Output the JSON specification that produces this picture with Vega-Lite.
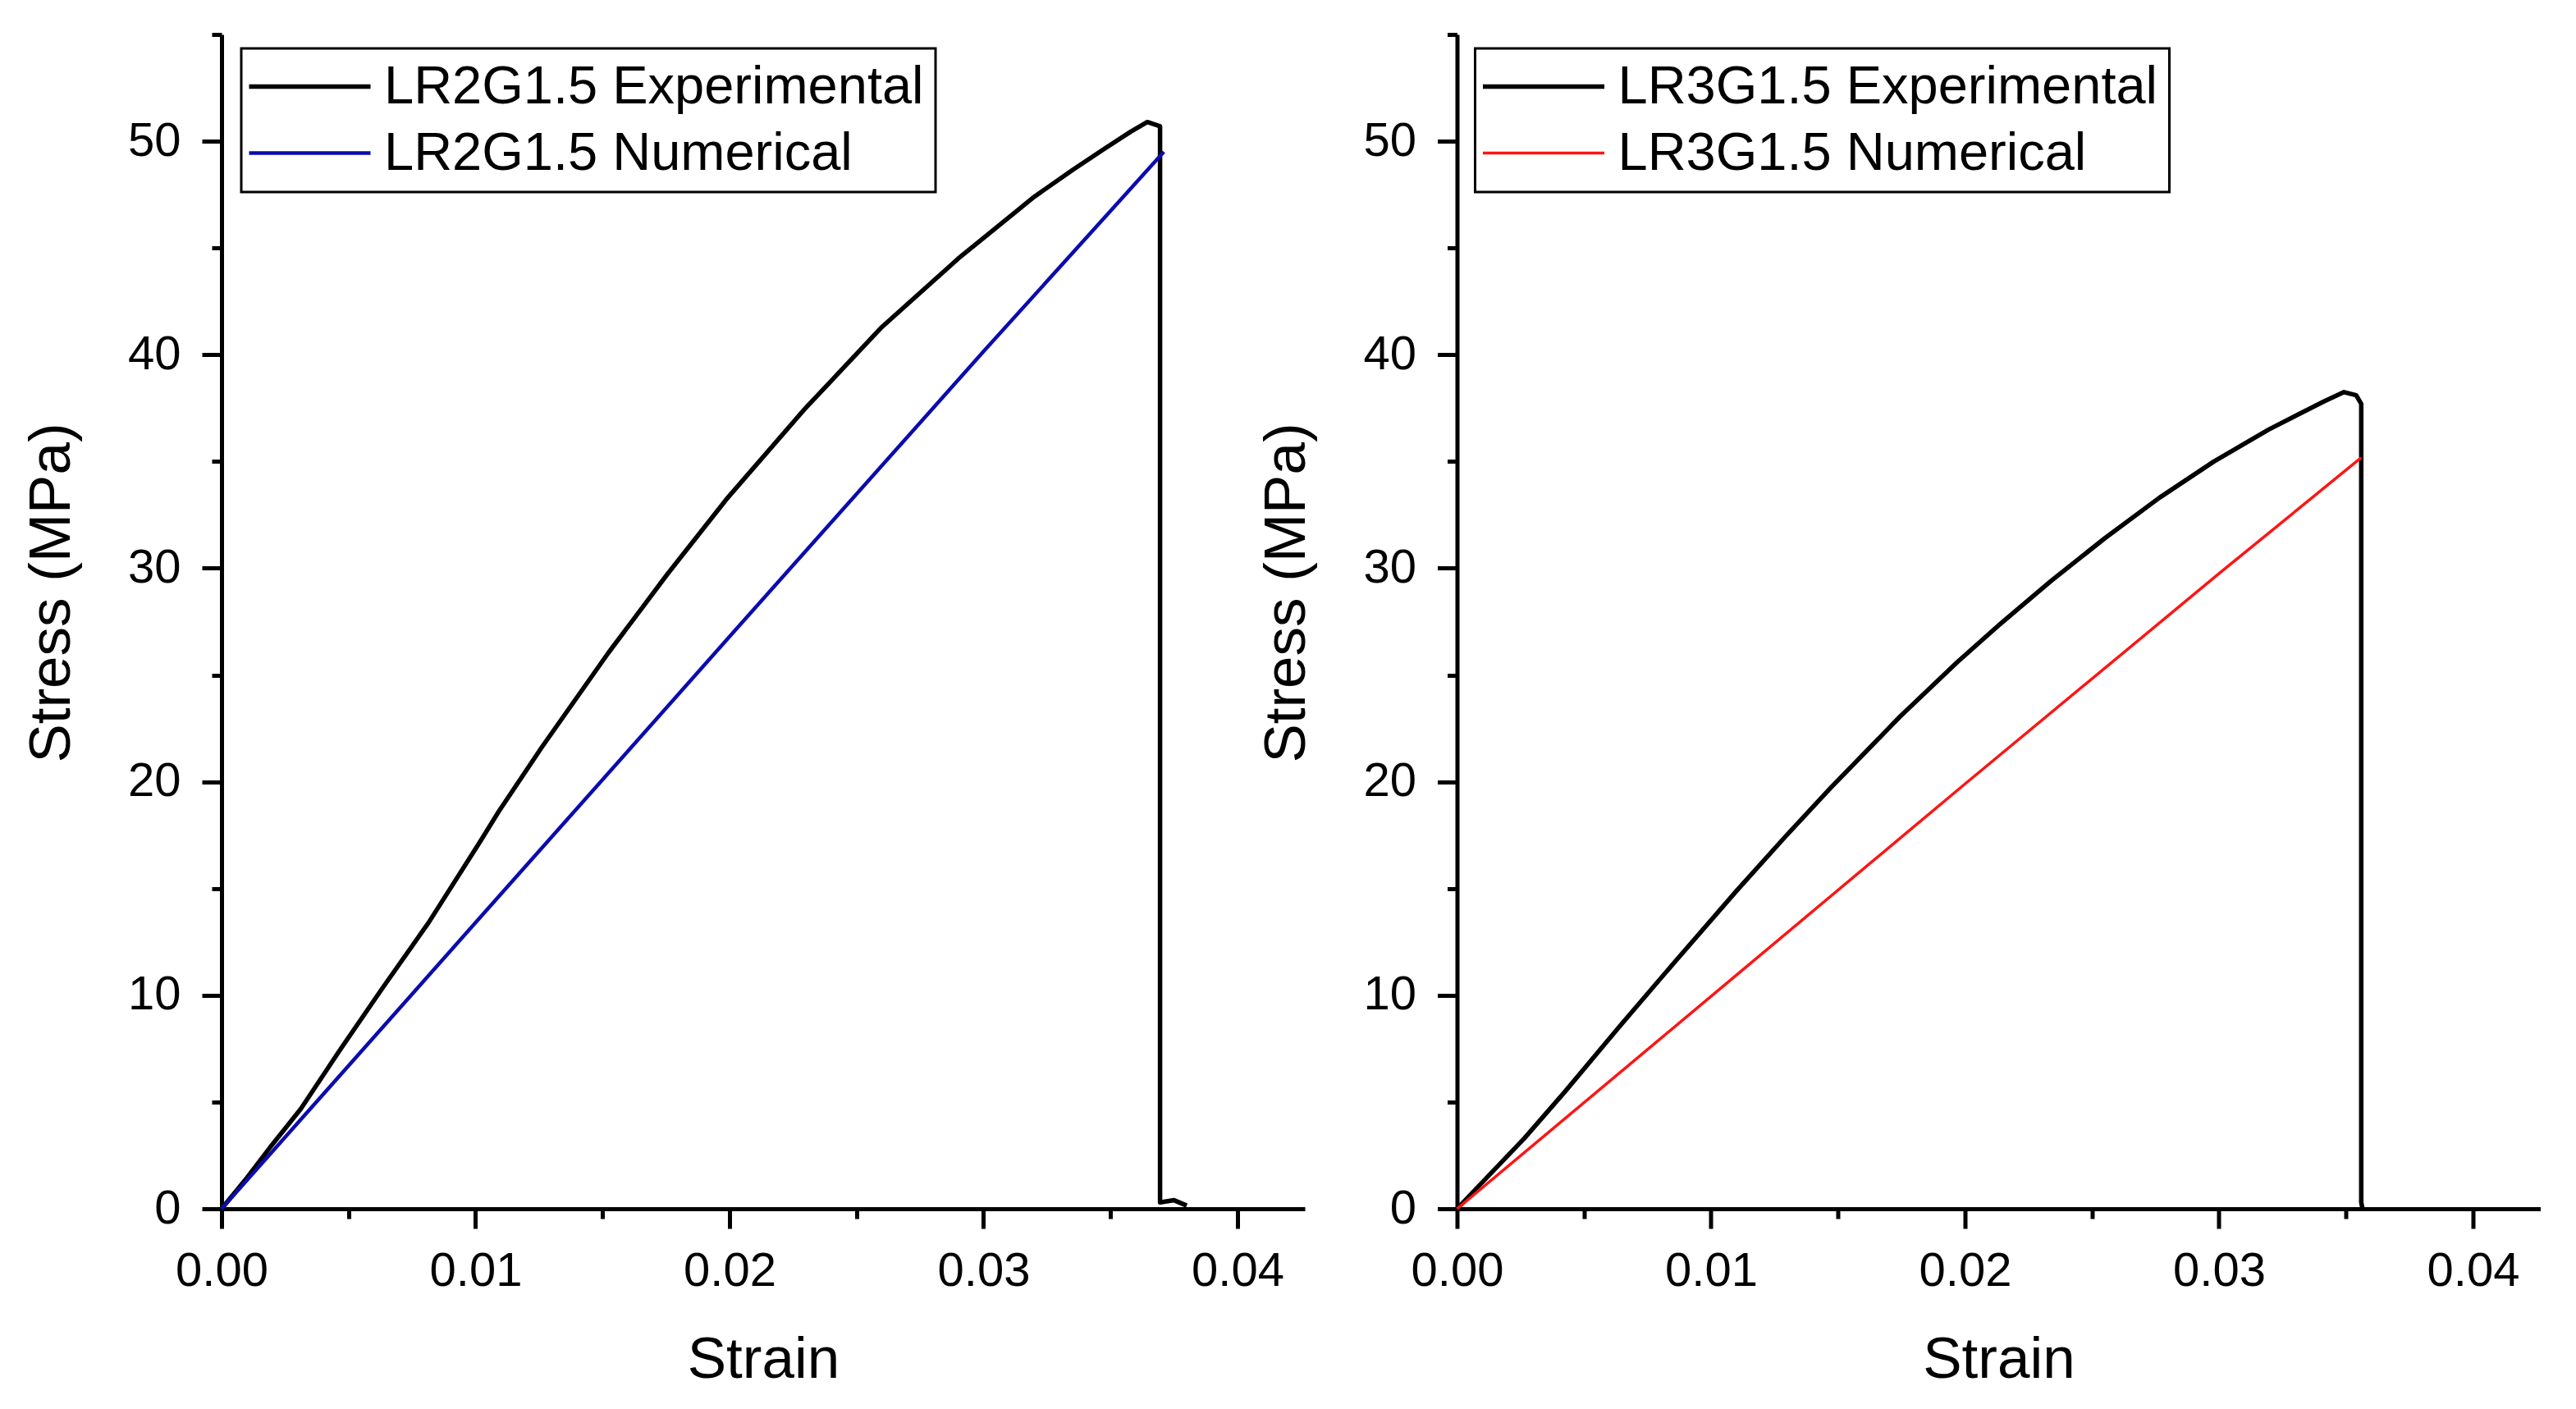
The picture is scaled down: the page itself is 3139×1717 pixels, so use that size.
{
  "$schema": "https://vega.github.io/schema/vega-lite/v6.json",
  "background": "white",
  "padding": {"left": 27, "top": 13, "right": 40, "bottom": 17},
  "config": {
    "font": "Liberation Sans",
    "view": {"stroke": null},
    "axis": {
      "grid": false,
      "domainColor": "black",
      "domainWidth": 5,
      "tickColor": "black",
      "tickWidth": 5,
      "labelColor": "black",
      "titleColor": "black",
      "labelFont": "Liberation Sans",
      "titleFont": "Liberation Sans",
      "labelFontSize": 58,
      "titleFontSize": 71,
      "titleFontWeight": "normal",
      "labelOverlap": false,
      "labelFlush": false
    },
    "legend": {"strokeWidth": 3}
  },
  "datasets": {
    "curves": [
      {"p": "L", "s": "LR2G1.5 Experimental", "i": 0, "x": 0, "y": 0},
      {"p": "L", "s": "LR2G1.5 Experimental", "i": 1, "x": 0.001, "y": 1.45},
      {"p": "L", "s": "LR2G1.5 Experimental", "i": 2, "x": 0.0019, "y": 2.86},
      {"p": "L", "s": "LR2G1.5 Experimental", "i": 3, "x": 0.00312, "y": 4.68},
      {"p": "L", "s": "LR2G1.5 Experimental", "i": 4, "x": 0.00464, "y": 7.4},
      {"p": "L", "s": "LR2G1.5 Experimental", "i": 5, "x": 0.00632, "y": 10.31},
      {"p": "L", "s": "LR2G1.5 Experimental", "i": 6, "x": 0.00815, "y": 13.4},
      {"p": "L", "s": "LR2G1.5 Experimental", "i": 7, "x": 0.01013, "y": 17.1},
      {"p": "L", "s": "LR2G1.5 Experimental", "i": 8, "x": 0.01091, "y": 18.6},
      {"p": "L", "s": "LR2G1.5 Experimental", "i": 9, "x": 0.01261, "y": 21.62},
      {"p": "L", "s": "LR2G1.5 Experimental", "i": 10, "x": 0.01523, "y": 26.04},
      {"p": "L", "s": "LR2G1.5 Experimental", "i": 11, "x": 0.01755, "y": 29.72},
      {"p": "L", "s": "LR2G1.5 Experimental", "i": 12, "x": 0.01987, "y": 33.22},
      {"p": "L", "s": "LR2G1.5 Experimental", "i": 13, "x": 0.02296, "y": 37.46},
      {"p": "L", "s": "LR2G1.5 Experimental", "i": 14, "x": 0.026, "y": 41.3},
      {"p": "L", "s": "LR2G1.5 Experimental", "i": 15, "x": 0.029, "y": 44.5},
      {"p": "L", "s": "LR2G1.5 Experimental", "i": 16, "x": 0.032, "y": 47.4},
      {"p": "L", "s": "LR2G1.5 Experimental", "i": 17, "x": 0.0335, "y": 48.65},
      {"p": "L", "s": "LR2G1.5 Experimental", "i": 18, "x": 0.0347, "y": 49.6},
      {"p": "L", "s": "LR2G1.5 Experimental", "i": 19, "x": 0.0358, "y": 50.45},
      {"p": "L", "s": "LR2G1.5 Experimental", "i": 20, "x": 0.03645, "y": 50.9},
      {"p": "L", "s": "LR2G1.5 Experimental", "i": 21, "x": 0.03695, "y": 50.7},
      {"p": "L", "s": "LR2G1.5 Experimental", "i": 22, "x": 0.03695, "y": 0.3},
      {"p": "L", "s": "LR2G1.5 Experimental", "i": 23, "x": 0.0375, "y": 0.4},
      {"p": "L", "s": "LR2G1.5 Experimental", "i": 24, "x": 0.038, "y": 0.15},
      {"p": "L", "s": "LR2G1.5 Numerical", "i": 0, "x": 0, "y": 0},
      {"p": "L", "s": "LR2G1.5 Numerical", "i": 1, "x": 0.01, "y": 13.4},
      {"p": "L", "s": "LR2G1.5 Numerical", "i": 2, "x": 0.02, "y": 26.8},
      {"p": "L", "s": "LR2G1.5 Numerical", "i": 3, "x": 0.03, "y": 40.15},
      {"p": "L", "s": "LR2G1.5 Numerical", "i": 4, "x": 0.0371, "y": 49.5},
      {"p": "R", "s": "LR3G1.5 Experimental", "i": 0, "x": 0, "y": 0},
      {"p": "R", "s": "LR3G1.5 Experimental", "i": 1, "x": 0.00265, "y": 3.3},
      {"p": "R", "s": "LR3G1.5 Experimental", "i": 2, "x": 0.00426, "y": 5.5},
      {"p": "R", "s": "LR3G1.5 Experimental", "i": 3, "x": 0.00651, "y": 8.7},
      {"p": "R", "s": "LR3G1.5 Experimental", "i": 4, "x": 0.0086, "y": 11.6},
      {"p": "R", "s": "LR3G1.5 Experimental", "i": 5, "x": 0.01101, "y": 14.9},
      {"p": "R", "s": "LR3G1.5 Experimental", "i": 6, "x": 0.01294, "y": 17.45},
      {"p": "R", "s": "LR3G1.5 Experimental", "i": 7, "x": 0.0147, "y": 19.7},
      {"p": "R", "s": "LR3G1.5 Experimental", "i": 8, "x": 0.01744, "y": 23.05},
      {"p": "R", "s": "LR3G1.5 Experimental", "i": 9, "x": 0.01969, "y": 25.6},
      {"p": "R", "s": "LR3G1.5 Experimental", "i": 10, "x": 0.0213, "y": 27.3},
      {"p": "R", "s": "LR3G1.5 Experimental", "i": 11, "x": 0.02338, "y": 29.4},
      {"p": "R", "s": "LR3G1.5 Experimental", "i": 12, "x": 0.0255, "y": 31.4},
      {"p": "R", "s": "LR3G1.5 Experimental", "i": 13, "x": 0.02765, "y": 33.3},
      {"p": "R", "s": "LR3G1.5 Experimental", "i": 14, "x": 0.0298, "y": 35.0},
      {"p": "R", "s": "LR3G1.5 Experimental", "i": 15, "x": 0.03196, "y": 36.5},
      {"p": "R", "s": "LR3G1.5 Experimental", "i": 16, "x": 0.03411, "y": 37.8},
      {"p": "R", "s": "LR3G1.5 Experimental", "i": 17, "x": 0.03492, "y": 38.25},
      {"p": "R", "s": "LR3G1.5 Experimental", "i": 18, "x": 0.0354, "y": 38.1},
      {"p": "R", "s": "LR3G1.5 Experimental", "i": 19, "x": 0.0356, "y": 37.7},
      {"p": "R", "s": "LR3G1.5 Experimental", "i": 20, "x": 0.0356, "y": 0.3},
      {"p": "R", "s": "LR3G1.5 Experimental", "i": 21, "x": 0.03565, "y": 0},
      {"p": "R", "s": "LR3G1.5 Numerical", "i": 0, "x": 0, "y": 0},
      {"p": "R", "s": "LR3G1.5 Numerical", "i": 1, "x": 0.01, "y": 9.95},
      {"p": "R", "s": "LR3G1.5 Numerical", "i": 2, "x": 0.02, "y": 19.9},
      {"p": "R", "s": "LR3G1.5 Numerical", "i": 3, "x": 0.03, "y": 29.75},
      {"p": "R", "s": "LR3G1.5 Numerical", "i": 4, "x": 0.0356, "y": 35.18}
    ]
  },
  "spacing": 185.5,
  "bounds": "flush",
  "resolve": {
    "scale": {"color": "independent", "strokeWidth": "independent"},
    "legend": {"color": "independent"}
  },
  "hconcat": [
    {
      "width": 1320,
      "height": 1431,
      "data": {"name": "curves"},
      "transform": [{"filter": "datum.p === 'L'"}],
      "mark": {"type": "line", "strokeJoin": "round"},
      "encoding": {
        "x": {
          "field": "x",
          "type": "quantitative",
          "scale": {"domain": [0, 0.04265], "nice": false, "zero": false},
          "axis": {
            "title": "Strain",
            "values": [0, 0.005, 0.01, 0.015, 0.02, 0.025, 0.03, 0.035, 0.04],
            "format": ".2f",
            "labelExpr": "round(datum.value * 1000) % 10 === 0 ? datum.label : ''",
            "tickSize": {"condition": {"test": "round(datum.value * 1000) % 10 === 0", "value": 24}, "value": 12},
            "labelPadding": 23,
            "titlePadding": 44
          }
        },
        "y": {
          "field": "y",
          "type": "quantitative",
          "scale": {"domain": [0, 55], "nice": false},
          "axis": {
            "title": "Stress (MPa)",
            "values": [0, 5, 10, 15, 20, 25, 30, 35, 40, 45, 50, 55],
            "format": "d",
            "labelExpr": "datum.value % 10 === 0 ? datum.label : ''",
            "tickSize": {"condition": {"test": "datum.value % 10 === 0", "value": 24}, "value": 12},
            "labelPadding": 26,
            "titlePadding": 56,
            "titleY": 680
          }
        },
        "color": {
          "field": "s",
          "type": "nominal",
          "scale": {"domain": ["LR2G1.5 Experimental", "LR2G1.5 Numerical"], "range": ["black", "#0b0bb0"]},
          "legend": {
            "orient": "none",
            "legendX": 24,
            "legendY": 17,
            "title": null,
            "symbolType": "M-2.96,0H2.96",
            "symbolSize": 2500,
            "symbolStrokeWidth": 5,
            "symbolOffset": 37,
            "labelOffset": 58,
            "labelFontSize": 65,
            "labelFont": "Liberation Sans",
            "labelColor": "black",
            "labelLimit": 2000,
            "padding": 14,
            "rowPadding": 15,
            "strokeColor": "black",
            "fillColor": "white"
          }
        },
        "strokeWidth": {
          "field": "s",
          "type": "nominal",
          "scale": {"domain": ["LR2G1.5 Experimental", "LR2G1.5 Numerical"], "range": [5.5, 4.5]},
          "legend": null
        },
        "order": {"field": "i", "type": "quantitative"}
      }
    },
    {
      "width": 1320,
      "height": 1431,
      "data": {"name": "curves"},
      "transform": [{"filter": "datum.p === 'R'"}],
      "mark": {"type": "line", "strokeJoin": "round"},
      "encoding": {
        "x": {
          "field": "x",
          "type": "quantitative",
          "scale": {"domain": [0, 0.04265], "nice": false, "zero": false},
          "axis": {
            "title": "Strain",
            "values": [0, 0.005, 0.01, 0.015, 0.02, 0.025, 0.03, 0.035, 0.04],
            "format": ".2f",
            "labelExpr": "round(datum.value * 1000) % 10 === 0 ? datum.label : ''",
            "tickSize": {"condition": {"test": "round(datum.value * 1000) % 10 === 0", "value": 24}, "value": 12},
            "labelPadding": 23,
            "titlePadding": 44
          }
        },
        "y": {
          "field": "y",
          "type": "quantitative",
          "scale": {"domain": [0, 55], "nice": false},
          "axis": {
            "title": "Stress (MPa)",
            "values": [0, 5, 10, 15, 20, 25, 30, 35, 40, 45, 50, 55],
            "format": "d",
            "labelExpr": "datum.value % 10 === 0 ? datum.label : ''",
            "tickSize": {"condition": {"test": "datum.value % 10 === 0", "value": 24}, "value": 12},
            "labelPadding": 26,
            "titlePadding": 56,
            "titleY": 680
          }
        },
        "color": {
          "field": "s",
          "type": "nominal",
          "scale": {"domain": ["LR3G1.5 Experimental", "LR3G1.5 Numerical"], "range": ["black", "#ff1414"]},
          "legend": {
            "orient": "none",
            "legendX": 22,
            "legendY": 17,
            "title": null,
            "symbolType": "M-2.96,0H2.96",
            "symbolSize": 2500,
            "symbolStrokeWidth": 5,
            "symbolOffset": 37,
            "labelOffset": 58,
            "labelFontSize": 65,
            "labelFont": "Liberation Sans",
            "labelColor": "black",
            "labelLimit": 2000,
            "padding": 14,
            "rowPadding": 15,
            "strokeColor": "black",
            "fillColor": "white"
          }
        },
        "strokeWidth": {
          "field": "s",
          "type": "nominal",
          "scale": {"domain": ["LR3G1.5 Experimental", "LR3G1.5 Numerical"], "range": [5.5, 3.5]},
          "legend": null
        },
        "order": {"field": "i", "type": "quantitative"}
      }
    }
  ]
}
